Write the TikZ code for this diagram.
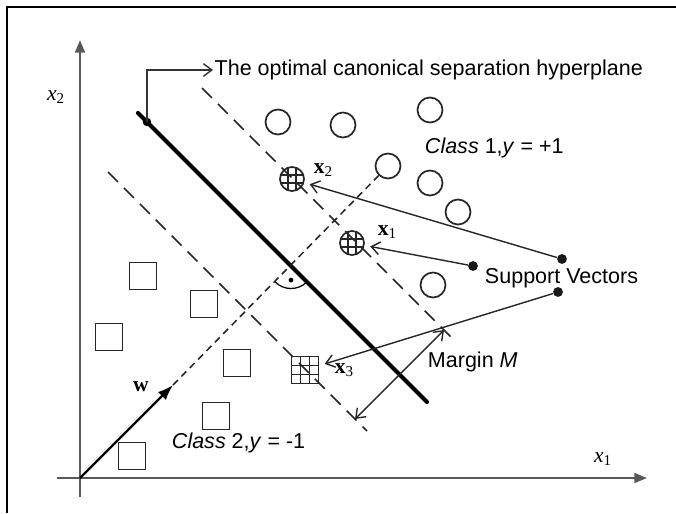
\documentclass[tikz,border=0pt]{standalone}
\usepackage{fontspec}
\setmainfont{Liberation Sans}
\newfontfamily\timesfont{Liberation Serif}
\usetikzlibrary{arrows.meta}

\begin{document}
\begin{tikzpicture}[x=0.025cm, y=-0.025cm, font=\fontsize{15.3}{18}\selectfont,
    axis/.style={draw=black!65, line width=1.5pt, -{Triangle[length=9pt, width=7pt]}},
    margin/.style={draw=black!85, line width=1.1pt, dash pattern=on 10pt off 6pt},
    normal/.style={draw=black!85, line width=1.1pt, dash pattern=on 5pt off 3.5pt},
    cpt/.style={circle, draw=black!85, line width=1.2pt, minimum size=0.625cm, inner sep=0pt},
    spt/.style={rectangle, draw=black!85, line width=1.2pt, minimum size=0.675cm, inner sep=0pt},
    svcirc/.style={cpt, minimum size=0.6cm, path picture={
        \foreach \d in {-2.8pt,2.8pt} {
          \draw[line width=1pt] ([xshift=\d]path picture bounding box.north) -- ([xshift=\d]path picture bounding box.south);
          \draw[line width=1pt] ([yshift=\d]path picture bounding box.west) -- ([yshift=\d]path picture bounding box.east);
        }}},
    svsq/.style={spt, path picture={
        \foreach \d in {-3.2pt,3.2pt} {
          \draw[line width=0.9pt] ([xshift=\d]path picture bounding box.north) -- ([xshift=\d]path picture bounding box.south);
          \draw[line width=0.9pt] ([yshift=\d]path picture bounding box.west) -- ([yshift=\d]path picture bounding box.east);
        }}},
    svdot/.style={circle, fill=black!90, minimum size=7pt, inner sep=0pt},
    svarrow/.style={draw=black!85, line width=1pt, -{Straight Barb[length=6pt, width=9pt]}, shorten >=4pt},
  ]

  \useasboundingbox (0,0) rectangle (676,513);

  % 枠 (左と上だけ)
  \draw[line width=1.6pt] (7,513) -- (7,7) -- (676,7);

  % 座標軸
  \draw[axis] (80,497) -- (80,40);
  \draw[axis] (57,478) -- (647,478);
  \node (lx2) at (56,97) {\timesfont\textit{x}\textsubscript{2}};
  \node (lx1) at (603,459) {\timesfont\textit{x}\textsubscript{1}};

  % Class 1 の点
  \foreach \x/\y [count=\i] in {278/122, 343/125, 430/110, 388/166, 430/183, 458/212, 433/285}
    \node[cpt] (c\i) at (\x,\y) {};

  % Class 2 の点
  \foreach \x/\y [count=\i] in {143/276, 204/304, 109/337, 237/363, 216/416, 132/456}
    \node[spt] (s\i) at (\x,\y) {};

  % サポートベクター
  \node[svcirc] (sv2) at (292,179) {};
  \node[svcirc] (sv1) at (352,243) {};
  \node[svsq] (sv3) at (305,370) {};
  \node[anchor=west] (lsv2) at (309,170) {\timesfont\textbf{x}\textsubscript{2}};
  \node[anchor=west] (lsv1) at (373,232) {\timesfont\textbf{x}\textsubscript{1}};
  \node[anchor=west] (lsv3) at (330,370) {\timesfont\textbf{x}\textsubscript{3}};

  % マージンの境界 (破線)
  \draw[margin] (202,88) -- (453,339);
  \draw[margin] (108,172) -- (367,431);

  % 分離超平面
  \draw[line width=3pt, line cap=round] (138,113) -- (427,402);
  \coordinate (hp) at (147,122);
  \fill (hp) circle (3pt);
  \node[anchor=west, inner sep=1pt] (title) at (213,70) {The optimal canonical separation hyperplane};
  \draw[draw=black!80, line width=1pt, -{Straight Barb[length=6pt, width=9pt]}] (hp) |- (title.west);

  % 法線ベクトル w
  \coordinate (o) at (80,478);
  \coordinate (wtip) at (173,385);
  \draw[line width=1.6pt, -{Latex[length=11pt, width=8pt]}] (o) -- (wtip);
  \draw[normal] (wtip) -- (c4);
  \node (lw) at (141,387) {\timesfont\textbf{w}};

  % 直角の印
  \coordinate (ra) at (291,266);
  \draw[line width=0.9pt] ([shift={(225:16pt)}]ra) arc[start angle=225, end angle=315, radius=16pt];
  \fill ([shift={(270:10pt)}]ra) circle (1.7pt);

  % ラベル
  \node[anchor=west] (lc1) at (420,148) {\textit{Class} 1,\textit{y} = +1};
  \node[anchor=west] (lc2) at (167,443) {\textit{Class} 2,\textit{y} = -1};
  \node[anchor=west] (lsupp) at (480,278) {Support Vectors};

  % Support Vectors からの矢印
  \node[svdot] (d1) at (562,259) {};
  \node[svdot] (d2) at (473,266) {};
  \node[svdot] (d3) at (558,292) {};
  \draw[svarrow] (d1) -- (sv2);
  \draw[svarrow] (d2) -- (sv1);
  \draw[svarrow] (d3) -- (sv3);

  % マージン M
  \coordinate (ma) at (355,419);
  \coordinate (mb) at (444,330);
  \draw[draw=black!85, line width=1pt, {Straight Barb[length=6pt, width=9pt]}-{Straight Barb[length=6pt, width=9pt]}] (ma) -- (mb);
  \node[anchor=west] (lm) at (423,362) {Margin \textit{M}};

\end{tikzpicture}
\end{document}
